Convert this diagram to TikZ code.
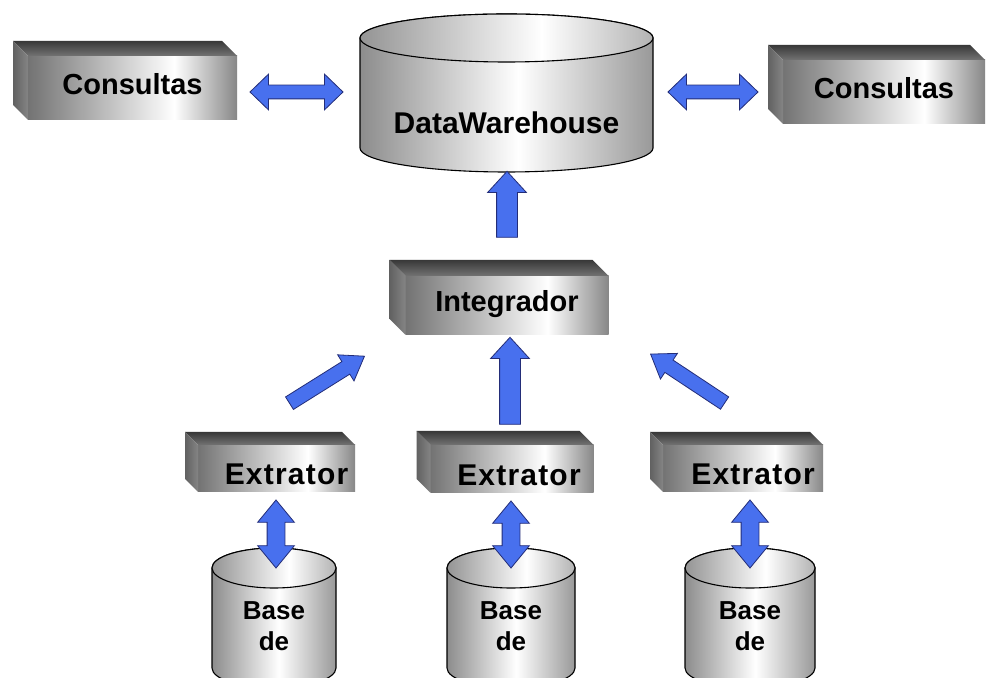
\documentclass[tikz,border=0pt]{standalone}
\usepackage{fontspec}
\setmainfont{Liberation Sans}
\usetikzlibrary{shapes.arrows,calc}
\definecolor{azul}{RGB}{72,112,238}
\definecolor{azulesc}{RGB}{35,45,120}
\pgfdeclarehorizontalshading{frente}{100bp}{color(0bp)=(black!55); color(25bp)=(black!55); color(60bp)=(white); color(75bp)=(black!47); color(100bp)=(black!47)}
\pgfdeclarehorizontalshading{corpo}{100bp}{color(0bp)=(black!45); color(25bp)=(black!45); color(52bp)=(white); color(75bp)=(black!40); color(100bp)=(black!40)}
\pgfdeclarehorizontalshading{tampa}{100bp}{color(0bp)=(black!42); color(25bp)=(black!42); color(56bp)=(white); color(75bp)=(black!30); color(100bp)=(black!30)}
\tikzset{
  caixa/.style={shade,shading=frente,inner sep=0pt,outer sep=0pt,font=\fontsize{29pt}{32pt}\selectfont\bfseries,text height=21pt,text depth=8pt},
  extrator/.style={caixa,font=\fontsize{30pt}{32pt}\selectfont\bfseries\addfontfeatures{LetterSpace=4},text height=33pt,text depth=0pt},
  topo/.style={top color=black!78,bottom color=black!55},
  lado/.style={left color=black!62,right color=black!48},
  cilindro/.style={shade,shading=corpo,draw=black,line width=1.1pt},
  topocil/.style={shade,shading=tampa,draw=black,line width=1.1pt},
  rotulo/.style={font=\fontsize{30pt}{32pt}\selectfont\bfseries,inner sep=0pt},
  textobase/.style={font=\fontsize{26pt}{31pt}\selectfont\bfseries,align=center,inner sep=0pt},
  seta/.style={single arrow,fill=azul,draw=azulesc,line width=.8pt,minimum width=0pt,single arrow head indent=0pt,midway,sloped,allow upside down,inner sep=10pt,single arrow head extend=9pt,single arrow tip angle=85},
  setadiag/.style={seta,inner sep=7pt,single arrow head extend=8pt,single arrow tip angle=70},
  setadupla/.style={double arrow,fill=azul,draw=azulesc,line width=.8pt,minimum width=0pt,midway,sloped,allow upside down,inner sep=6.5pt,double arrow head extend=11pt,double arrow tip angle=88},
  setavert/.style={setadupla,inner sep=8.5pt,double arrow head extend=9.5pt,double arrow tip angle=79}
}
\begin{document}
\begin{tikzpicture}[x=1pt,y=1pt]
\useasboundingbox[fill=white] (0,0) rectangle (987,677);
\foreach \cx/\rx/\yt/\yb/\ry in {506.5/146.5/639/529/24,274/62/109/9/20,511/64/109/9/20,750/65/109/9/20}{
  \path[cilindro] (\cx-\rx,\yt) -- (\cx-\rx,\yb) arc[start angle=180,end angle=360,x radius=\rx,y radius=\ry] -- (\cx+\rx,\yt) arc[start angle=0,end angle=180,x radius=\rx,y radius=\ry] -- cycle;
  \path[topocil] (\cx,\yt) ellipse[x radius=\rx,y radius=\ry];
}
\node[rotulo] (dw) at (506.5,554) {DataWarehouse};
\node[textobase] (b1) at (274,51) {Base\\de};
\node[textobase] (b2) at (511,51) {Base\\de};
\node[textobase] (b3) at (750,51) {Base\\de};
\coordinate (dw-w) at (360,585);
\coordinate (dw-e) at (653,585);
\coordinate (dw-s) at (507,505);
\coordinate (b1-n) at (276,129);
\coordinate (b2-n) at (511,129);
\coordinate (b3-n) at (750,129);
\node[caixa,minimum width=209pt,minimum height=64pt] (cl) at (132.5,589) {Consultas};
\node[caixa,minimum width=202pt,minimum height=64pt] (cr) at (884,585) {Consultas};
\node[caixa,minimum width=203pt,minimum height=59pt] (int) at (507,371.5) {Integrador};
\node[extrator,minimum width=157pt,minimum height=47pt] (e1) at (276.5,208.5) {\hspace*{20pt}Extrator};
\node[extrator,minimum width=163pt,minimum height=48pt] (e2) at (512,208) {\hspace*{14pt}Extrator};
\node[extrator,minimum width=160pt,minimum height=47pt] (e3) at (743,208.5) {\hspace*{20pt}Extrator};
\foreach \n/\d in {cl/15,cr/15,int/16,e1/13,e2/14,e3/13}{
  \path[topo] (\n.north west) -- ++(-\d,\d) -- ($(\n.north east)+(-\d,\d)$) -- (\n.north east) -- cycle;
  \path[lado] (\n.north west) -- ++(-\d,\d) -- ($(\n.south west)+(-\d,\d)$) -- (\n.south west) -- cycle;
}
\coordinate (c1a) at ($(cl.east)+(13,-4)$);
\coordinate (c1b) at ($(dw-w)+(-17,0)$);
\coordinate (c2a) at ($(dw-e)+(15,0)$);
\coordinate (c2b) at ($(cr.west)+(-25,0)$);
\coordinate (c3a) at ($(int.north)+(0,33)$);
\coordinate (c3b) at ($(dw-s)+(0,-5)$);
\coordinate (c4a) at ($(e2.north)+(-2,15)$);
\coordinate (c4b) at ($(int.south)+(3,-8)$);
\coordinate (c5a) at ($(e1.north)+(8.5,39)$);
\coordinate (c5b) at ($(int.south west)+(-45.5,-24)$);
\coordinate (c6a) at ($(e3.north)+(-14,39)$);
\coordinate (c6b) at ($(int.south east)+(46.5,-22)$);
\coordinate (c7a) at ($(b1-n |- e1.south)+(0,-8)$);
\coordinate (c7b) at ($(b1-n)+(0,-20)$);
\coordinate (c8a) at ($(b2-n |- e2.south)+(0,-8)$);
\coordinate (c8b) at ($(b2-n)+(0,-20)$);
\coordinate (c9a) at ($(b3-n |- e3.south)+(0,-8)$);
\coordinate (c9b) at ($(b3-n)+(0,-20)$);
\path let \p1=($(c1b)-(c1a)$),\n1={veclen(\x1,\y1)} in (c1a) -- node[setadupla,minimum height=\n1] {} (c1b);
\path let \p1=($(c2b)-(c2a)$),\n1={veclen(\x1,\y1)} in (c2a) -- node[setadupla,minimum height=\n1] {} (c2b);
\path let \p1=($(c3b)-(c3a)$),\n1={veclen(\x1,\y1)} in (c3a) -- node[seta,minimum height=\n1] {} (c3b);
\path let \p1=($(c4b)-(c4a)$),\n1={veclen(\x1,\y1)} in (c4a) -- node[seta,minimum height=\n1] {} (c4b);
\path let \p1=($(c5b)-(c5a)$),\n1={veclen(\x1,\y1)} in (c5a) -- node[setadiag,minimum height=\n1] {} (c5b);
\path let \p1=($(c6b)-(c6a)$),\n1={veclen(\x1,\y1)} in (c6a) -- node[setadiag,minimum height=\n1] {} (c6b);
\path let \p1=($(c7b)-(c7a)$),\n1={veclen(\x1,\y1)} in (c7a) -- node[setavert,minimum height=\n1] {} (c7b);
\path let \p1=($(c8b)-(c8a)$),\n1={veclen(\x1,\y1)} in (c8a) -- node[setavert,minimum height=\n1] {} (c8b);
\path let \p1=($(c9b)-(c9a)$),\n1={veclen(\x1,\y1)} in (c9a) -- node[setavert,minimum height=\n1] {} (c9b);
\end{tikzpicture}
\end{document}
